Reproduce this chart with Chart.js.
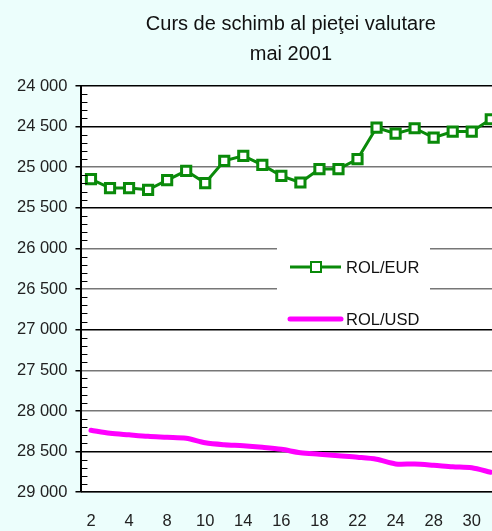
<!DOCTYPE html>
<html>
<head>
<meta charset="utf-8">
<script src="https://cdn.jsdelivr.net/npm/chart.js@4/dist/chart.umd.min.js"></script>
<style>
  html, body { margin: 0; padding: 0; overflow: hidden; background: #ecfefc; }
  #wrap { width: 510px; height: 531px; position: relative; }
</style>
</head>
<body>
<div id="wrap"><canvas id="cursChart"></canvas></div>
<script>
// zilele de tranzactionare, mai 2001
const zile = ['2', '3', '4', '7', '8', '9', '10', '11', '14', '15', '16', '17', '18', '21', '22', '23', '24', '25', '28', '29', '30', '31'];
const rolEur = [25146, 25257, 25257, 25278, 25158, 25044, 25195, 24921, 24860, 24971, 25106,
                25188, 25023, 25023, 24900, 24512, 24586, 24520, 24635, 24561, 24561, 24409];
const rolUsd = [28238, 28275, 28294, 28312, 28324, 28337, 28392, 28416, 28428, 28447, 28472,
                28514, 28533, 28552, 28570, 28595, 28652, 28652, 28668, 28687, 28700, 28754];
const yTicks = [24000, 24500, 25000, 25500, 26000, 26500, 27000, 27500, 28000, 28500, 29000];

const fontName = "'Liberation Sans', Arial, sans-serif";

function fmt(v) {
    return String(v).replace(/\B(?=(\d{3})+(?!\d))/g, ' ');
}

// liniute mici (la 100) pe interiorul axei Y
const minorTicks = {
    id: 'minorTicks',
    afterDatasetsDraw(chart) {
        const y = chart.scales.y;
        const ctx = chart.ctx;
        ctx.save();
        ctx.strokeStyle = '#000';
        ctx.lineWidth = 1;
        for (let v = yTicks[0]; v < yTicks[yTicks.length - 1]; v += 100) {
            if (v % 500 === 0) continue;
            const py = Math.round(y.getPixelForValue(v)) + 0.5;
            ctx.beginPath();
            ctx.moveTo(chart.chartArea.left, py);
            ctx.lineTo(chart.chartArea.left + 6, py);
            ctx.stroke();
        }
        ctx.restore();
    }
};

// legenda in interiorul graficului
const boxLegend = {
    id: 'boxLegend',
    afterDraw(chart) {
        const ctx = chart.ctx;
        const x0 = 277, y0 = 243, w = 153, h = 84;
        ctx.save();
        ctx.fillStyle = '#fff';
        ctx.fillRect(x0, y0, w, h);
        ctx.font = '16.5px ' + fontName;
        ctx.textBaseline = 'middle';
        chart.data.datasets.forEach(function(ds, i) {
            const ly = y0 + 24 + i * 52;
            ctx.strokeStyle = ds.borderColor;
            ctx.lineWidth = ds.borderWidth;
            ctx.lineCap = i === 1 ? 'round' : 'butt';
            ctx.beginPath();
            ctx.moveTo(x0 + 13, ly);
            ctx.lineTo(x0 + 64, ly);
            ctx.stroke();
            if (ds.pointRadius > 0) {
                ctx.lineWidth = 2;
                ctx.fillStyle = '#fff';
                ctx.fillRect(x0 + 34, ly - 5, 10, 10);
                ctx.strokeRect(x0 + 34, ly - 5, 10, 10);
            }
            ctx.fillStyle = '#111';
            ctx.fillText(ds.label, x0 + 69, ly + 1);
        });
        ctx.restore();
    }
};

const plotBg = {
    id: 'plotBg',
    beforeDraw(chart) {
        const a = chart.chartArea;
        chart.ctx.save();
        chart.ctx.fillStyle = '#fff';
        chart.ctx.fillRect(a.left, a.top, a.right - a.left, a.bottom - a.top);
        chart.ctx.restore();
    }
};

const ctx = document.getElementById('cursChart').getContext('2d');
new Chart(ctx, {
    type: 'line',
    data: {
        labels: zile,
        datasets: [{
            label: 'ROL/EUR',
            data: rolEur,
            borderColor: '#0a8a0a',
            borderWidth: 3,
            backgroundColor: '#fff',
            pointStyle: 'rect',
            pointRadius: 6.5,
            pointBorderWidth: 3,
            pointBackgroundColor: '#fff',
            pointBorderColor: '#0a8a0a',
            tension: 0
        }, {
            label: 'ROL/USD',
            data: rolUsd,
            borderColor: '#ff00ff',
            borderWidth: 5,
            pointRadius: 0,
            tension: 0.3,
            borderCapStyle: 'round'
        }]
    },
    options: {
        responsive: true,
        maintainAspectRatio: false,
        animation: false,
        layout: { padding: { left: 9, right: 0, top: 0, bottom: -19 } },
        plugins: {
            legend: { display: false },
            tooltip: { enabled: false },
            title: {
                display: true,
                fullSize: false,
                text: ['Curs de schimb al pieţei valutare', 'mai 2001'],
                color: '#111',
                font: { family: fontName, size: 20, weight: 'normal', lineHeight: 1.5 },
                padding: { top: 9, bottom: 17 }
            }
        },
        scales: {
            x: {
                offset: true,
                grid: { display: false, drawTicks: false },
                border: { color: '#000', width: 1.5 },
                ticks: {
                    autoSkip: false,
                    maxRotation: 0,
                    padding: 19,
                    color: '#222',
                    font: { family: fontName, size: 16.5 },
                    callback: function(v, i) { return i % 2 === 0 ? zile[i] : ''; }
                }
            },
            y: {
                reverse: true,
                min: yTicks[0],
                max: yTicks[yTicks.length - 1],
                afterBuildTicks: function(axis) {
                    axis.ticks = yTicks.map(function(v) { return { value: v }; });
                },
                border: { color: '#000', width: 2 },
                grid: {
                    color: function(c) {
                        const v = c.tick ? c.tick.value : 0;
                        return (v - 24000) % 1500 === 0 || v === 24500 ? '#000' : '#777';
                    },
                    lineWidth: 1.5,
                    tickLength: 6,
                    tickColor: '#000'
                },
                ticks: {
                    padding: 8,
                    color: '#222',
                    font: { family: fontName, size: 16.5 },
                    callback: function(v) { return fmt(v); }
                }
            }
        }
    },
    plugins: [plotBg, minorTicks, boxLegend]
});
</script>
</body>
</html>
